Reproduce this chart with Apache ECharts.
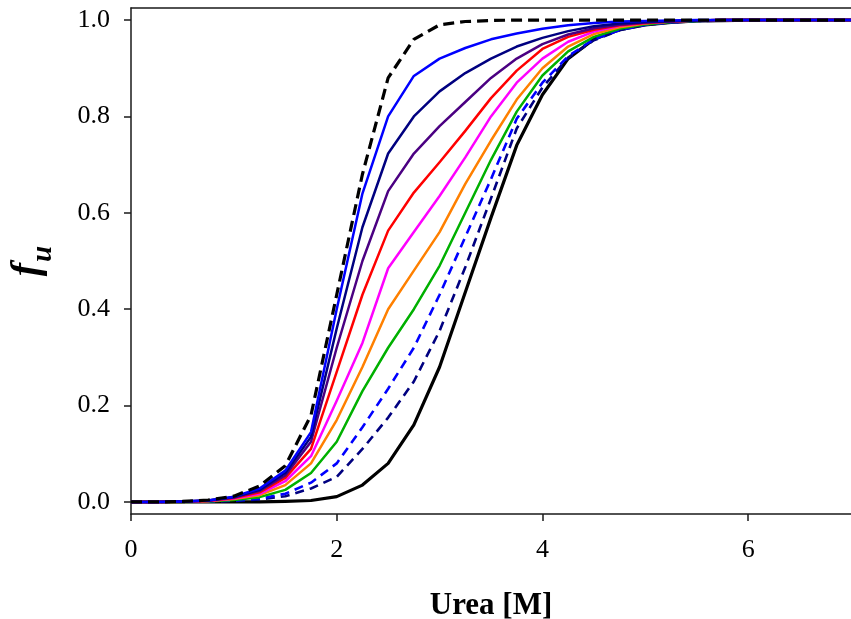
<!DOCTYPE html>
<html>
<head>
<meta charset="utf-8">
<script src="https://cdn.jsdelivr.net/npm/echarts@6/dist/echarts.min.js"></script>
<style>html,body{margin:0;padding:0;background:#fff}#c{width:851px;height:619px}</style>
</head>
<body>
<div id="c"></div>
<script>
var urea = [0,0.25,0.5,0.75,1.0,1.25,1.5,1.75,2.0,2.25,2.5,2.75,3.0,3.25,3.5,3.75,4.0,4.25,4.5,4.75,5.0,5.25,5.5,5.75,6.0,6.25,6.5,6.75,7.0];
var xTicks = [0,2,4,6];
var yTicks = [0,0.2,0.4,0.6,0.8,1.0];

var blackDashed = [0,0,0.001,0.004,0.012,0.033,0.075,0.18,0.43,0.68,0.88,0.96,0.99,0.997,0.999,1,1,1,1,1,1,1,1,1,1,1,1,1,1];
var blue        = [0,0,0.001,0.003,0.011,0.028,0.065,0.145,0.40,0.64,0.80,0.884,0.92,0.942,0.96,0.972,0.982,0.989,0.994,0.997,0.998,0.999,1,1,1,1,1,1,1];
var navy        = [0,0,0.001,0.003,0.010,0.025,0.060,0.135,0.36,0.57,0.723,0.80,0.852,0.89,0.92,0.945,0.963,0.977,0.987,0.993,0.996,0.998,0.999,1,1,1,1,1,1];
var indigo      = [0,0,0.001,0.003,0.009,0.023,0.055,0.125,0.32,0.50,0.645,0.723,0.78,0.83,0.88,0.92,0.95,0.97,0.983,0.99,0.995,0.997,0.999,1,1,1,1,1,1];
var red         = [0,0,0.001,0.002,0.008,0.020,0.050,0.110,0.27,0.43,0.563,0.642,0.705,0.77,0.838,0.895,0.94,0.965,0.98,0.989,0.994,0.997,0.999,1,1,1,1,1,1];
var magenta     = [0,0,0.001,0.002,0.007,0.017,0.043,0.095,0.21,0.33,0.485,0.56,0.635,0.715,0.80,0.87,0.92,0.955,0.976,0.988,0.994,0.997,0.999,1,1,1,1,1,1];
var orange      = [0,0,0,0.002,0.006,0.014,0.035,0.080,0.17,0.28,0.40,0.48,0.56,0.66,0.75,0.835,0.90,0.945,0.971,0.985,0.993,0.997,0.999,1,1,1,1,1,1];
var green       = [0,0,0,0.001,0.004,0.010,0.025,0.060,0.125,0.23,0.32,0.40,0.49,0.60,0.71,0.81,0.885,0.935,0.965,0.982,0.991,0.996,0.998,1,1,1,1,1,1];
var blueDashed  = [0,0,0,0.001,0.003,0.007,0.017,0.040,0.08,0.155,0.235,0.32,0.43,0.55,0.67,0.795,0.87,0.925,0.96,0.979,0.99,0.995,0.998,0.999,1,1,1,1,1];
var navyDashed  = [0,0,0,0.001,0.002,0.005,0.012,0.028,0.052,0.11,0.175,0.25,0.355,0.487,0.63,0.775,0.86,0.922,0.958,0.979,0.99,0.995,0.998,0.999,1,1,1,1,1];
var blackSolid  = [0,0,0,0,0,0,0.001,0.003,0.011,0.035,0.08,0.16,0.28,0.435,0.59,0.74,0.845,0.92,0.96,0.98,0.99,0.995,0.998,0.999,1,1,1,1,1];

function pairs(ys){ return urea.map(function(x,i){ return [x, ys[i]]; }); }
function line(name, ys, color, width, dash){
  return {
    name: name, type: 'line', data: pairs(ys), showSymbol: false, symbol: 'none',
    smooth: false, animation: false,
    lineStyle: { color: color, width: width, type: dash || 'solid', cap: 'butt', join: 'round' },
    emphasis: { disabled: true }
  };
}

var serif = "'Liberation Serif', serif";
var axisCol = '#1a1a1a';

var chart = echarts.init(document.getElementById('c'), null, { renderer: 'canvas' });
chart.setOption({
  backgroundColor: '#ffffff',
  animation: false,
  grid: { left: 131, right: 0, top: 8, bottom: 105, containLabel: false, outerBoundsMode: 'none' },
  xAxis: [{
    type: 'value', min: 0, max: 7, position: 'bottom',
    name: 'Urea [M]', nameLocation: 'middle', nameGap: 76,
    nameTextStyle: { fontFamily: serif, fontWeight: 'bold', fontSize: 31, color: '#000' },
    axisLine: { show: true, onZero: false, lineStyle: { color: axisCol, width: 1.5 } },
    axisTick: { show: true, inside: false, length: 7, customValues: xTicks, lineStyle: { color: axisCol, width: 1.5 } },
    axisLabel: { show: true, margin: 23, customValues: xTicks, fontFamily: serif, fontSize: 26, color: '#000', formatter: function(v){ return String(v); } },
    splitLine: { show: false }
  }, {
    type: 'value', min: 0, max: 7, position: 'top',
    axisLine: { show: true, onZero: false, lineStyle: { color: axisCol, width: 1.5 } },
    axisTick: { show: false }, axisLabel: { show: false }, splitLine: { show: false }
  }],
  yAxis: [{
    type: 'value', min: -0.025, max: 1.025, position: 'left',
    name: '{f|f}{u|u}', nameLocation: 'middle', nameGap: 73, nameRotate: 90,
    nameTextStyle: {
      rich: {
        f: { fontFamily: serif, fontStyle: 'italic', fontWeight: 'bold', fontSize: 40, color: '#000', verticalAlign: 'bottom', padding: [0, 1, 10, 0] },
        u: { fontFamily: serif, fontStyle: 'italic', fontWeight: 'bold', fontSize: 29, color: '#000', verticalAlign: 'bottom' }
      }
    },
    axisLine: { show: true, onZero: false, lineStyle: { color: axisCol, width: 1.5 } },
    axisTick: { show: true, inside: false, length: 7, customValues: yTicks, lineStyle: { color: axisCol, width: 1.5 } },
    axisLabel: { show: true, margin: 21, customValues: yTicks, fontFamily: serif, fontSize: 26, color: '#000', formatter: function(v){ return v.toFixed(1); } },
    splitLine: { show: false }
  }],
  series: [
    line('black', blackSolid, '#000000', 3.2),
    line('navyDashed', navyDashed, '#000080', 2.6, [9, 6]),
    line('blueDashed', blueDashed, '#0000ff', 2.6, [9, 6]),
    line('green', green, '#00b000', 2.5),
    line('orange', orange, '#ff8000', 2.5),
    line('magenta', magenta, '#ff00ff', 2.5),
    line('red', red, '#ff0000', 2.5),
    line('indigo', indigo, '#4b0082', 2.5),
    line('navy', navy, '#000080', 2.5),
    line('blue', blue, '#0000ff', 2.5),
    line('blackDashed', blackDashed, '#000000', 3.2, [11, 6])
  ]
});
</script>
</body>
</html>
